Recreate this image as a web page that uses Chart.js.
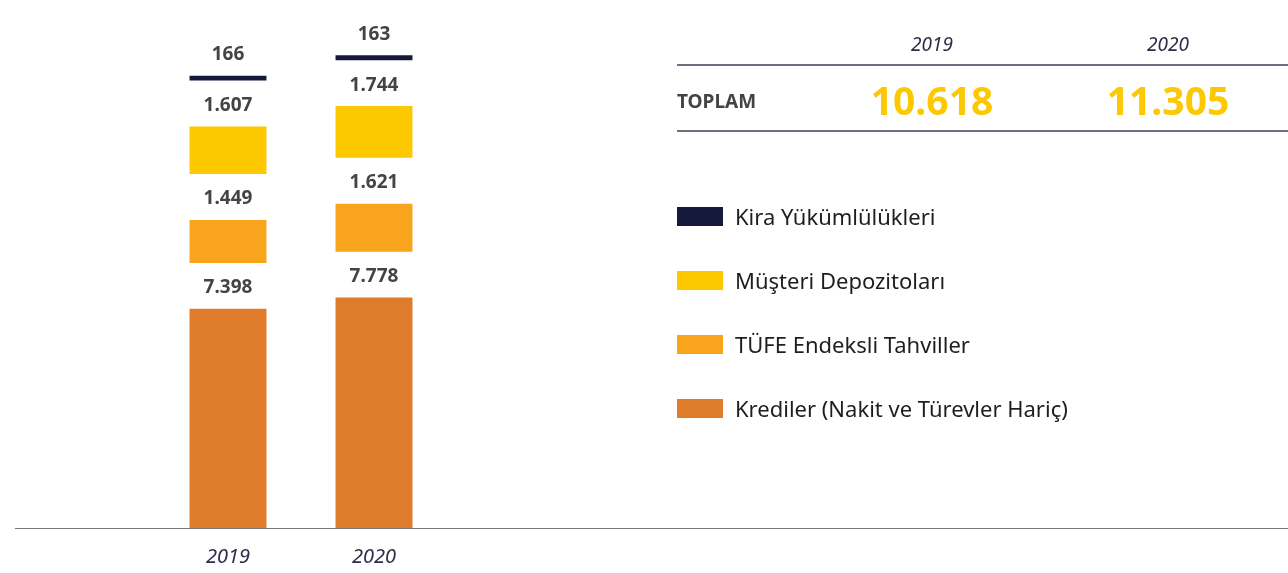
<!DOCTYPE html>
<html lang="tr">
<head>
<meta charset="utf-8">
<title>Bilanço Kalemleri 2019–2020</title>
<script src="https://cdn.jsdelivr.net/npm/chart.js@4/dist/chart.umd.min.js"></script>
<style>
  html, body { margin: 0; padding: 0; background: #fff; }
  body { width: 1288px; height: 573px; position: relative; overflow: hidden; font-family: "Noto Sans", "Open Sans", sans-serif; }
  #chartWrap { position: absolute; left: 0; top: 0; width: 1288px; height: 590px; }
  .baseline { position: absolute; left: 15px; top: 528px; width: 1273px; height: 0; border-top: 1.5px solid #7a7a7a; }
  .table { position: absolute; left: 677px; top: 0; width: 611px; }
  .hdr { position: absolute; top: 31px; font-style: italic; font-size: 19px; line-height: 26px; color: #2e2e4a; width: 120px; text-align: center; }
  .rule { position: absolute; left: 0; width: 611px; height: 0; border-top: 2px solid #6e6e80; }
  .rowlbl { position: absolute; left: 0; top: 88px; font-weight: 700; font-size: 19px; line-height: 26px; color: #444; }
  .total { position: absolute; top: 73px; font-weight: 700; font-size: 39px; line-height: 54px; color: #fcc800; width: 200px; text-align: center; }
  .legend { position: absolute; left: 677px; top: 0; }
  .item { position: absolute; left: 0; white-space: nowrap; font-size: 22px; line-height: 30px; color: #1e1e1e; font-weight: 400; }
  .sw { position: absolute; left: 0; width: 46px; height: 19px; }
  .txt { position: absolute; left: 58px; top: -6px; }
</style>
</head>
<body>
<div id="chartWrap"><canvas id="chart" width="1288" height="590"></canvas></div>
<div class="baseline"></div>

<div class="table">
  <div class="hdr" style="left:195px">2019</div>
  <div class="hdr" style="left:431px">2020</div>
  <div class="rule" style="top:64px"></div>
  <div class="rowlbl">TOPLAM</div>
  <div class="total" id="tot0" style="left:155px"></div>
  <div class="total" id="tot1" style="left:391px"></div>
  <div class="rule" style="top:130px"></div>
</div>

<div class="legend" id="legend"></div>

<script>
// Years on the category axis
const years = ['2019', '2020'];

// Series, listed bottom to top as they sit in each column
const seriesNames = [
  'Krediler (Nakit ve Türevler Hariç)',
  'TÜFE Endeksli Tahviller',
  'Müşteri Depozitoları',
  'Kira Yükümlülükleri'
];
const krediler = [7398, 7778];
const tufeTahviller = [1449, 1621];
const musteriDepozito = [1607, 1744];
const kiraYukumluluk = [166, 163];

// Totals shown in the summary row
const toplam = [10618, 11305];

const seriesValues = [krediler, tufeTahviller, musteriDepozito, kiraYukumluluk];
const seriesColors = ['#df7c2b', '#f8a41d', '#fdc800', '#15193b'];

// White space between stacked segments, in value units
const SEGMENT_GAP = 1550;
const Y_MAX = 17150;

function fmt(n) {
  return String(n).replace(/\B(?=(\d{3})+(?!\d))/g, '.');
}

// Each segment floats above the previous one, leaving room for its label
const datasets = seriesValues.map((vals, i) => ({
  label: seriesNames[i],
  values: vals,
  data: vals.map((v, c) => {
    let start = 0;
    for (let k = 0; k < i; k++) start += seriesValues[k][c];
    start += i * SEGMENT_GAP;
    return [start, start + v];
  }),
  backgroundColor: seriesColors[i],
  borderWidth: 0,
  borderSkipped: false,
  barPercentage: 0.527,
  categoryPercentage: 1.0
}));

// Value labels above every segment
const valueLabels = {
  id: 'valueLabels',
  afterDatasetsDraw(chart) {
    const ctx = chart.ctx;
    ctx.save();
    ctx.font = '700 19px "Noto Sans", "Open Sans", sans-serif';
    ctx.fillStyle = '#444444';
    ctx.textAlign = 'center';
    ctx.textBaseline = 'middle';
    chart.data.datasets.forEach((ds, di) => {
      const meta = chart.getDatasetMeta(di);
      meta.data.forEach((bar, j) => {
        const top = Math.min(bar.y, bar.base);
        ctx.fillText(fmt(ds.values[j]), bar.x, top - 21);
      });
    });
    ctx.restore();
  }
};

new Chart(document.getElementById('chart'), {
  type: 'bar',
  data: { labels: years, datasets },
  options: {
    responsive: false,
    animation: false,
    layout: { padding: { left: 155, right: 841, top: 20, bottom: 4 } },
    plugins: { legend: { display: false }, tooltip: { enabled: false } },
    scales: {
      x: {
        stacked: true,
        grid: { display: false, drawTicks: false },
        border: { display: false },
        ticks: {
          padding: 17,
          color: '#2e2e4a',
          font: { family: '"Noto Sans", "Open Sans", sans-serif', size: 20, style: 'italic' }
        }
      },
      y: {
        stacked: false,
        display: false,
        min: 0,
        max: Y_MAX
      }
    }
  },
  plugins: [valueLabels]
});

// Summary totals
document.getElementById('tot0').textContent = fmt(toplam[0]);
document.getElementById('tot1').textContent = fmt(toplam[1]);

// Legend, top to bottom
const legend = document.getElementById('legend');
const legendTops = [207, 271, 335, 399];
for (let i = seriesNames.length - 1, r = 0; i >= 0; i--, r++) {
  const item = document.createElement('div');
  item.className = 'item';
  item.style.top = legendTops[r] + 'px';
  item.innerHTML = '<div class="sw" style="background:' + seriesColors[i] + '"></div><div class="txt"></div>';
  item.querySelector('.txt').textContent = seriesNames[i];
  legend.appendChild(item);
}
</script>
</body>
</html>
